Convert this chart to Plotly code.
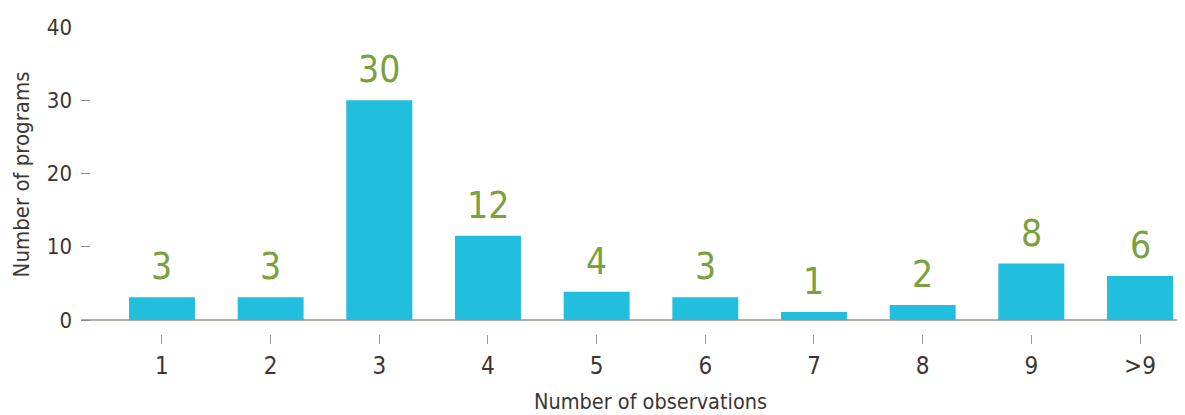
import plotly.graph_objects as go

categories = ["1", "2", "3", "4", "5", "6", "7", "8", "9", ">9"]
bar_values = [3.1, 3.1, 30.0, 11.5, 3.85, 3.1, 1.1, 2.05, 7.7, 6.0]
value_labels = ["3", "3", "30", "12", "4", "3", "1", "2", "8", "6"]
y_ticks = [0, 10, 20, 30, 40]

FONT = "Liberation Sans Narrow, DejaVu Sans Condensed, Arial Narrow, sans-serif"
TEXT_COL = "#3b3631"
GREEN = "#7ba03f"
BAR_COL = "#22bede"
GRAY = "#b3afa9"

fig = go.Figure()
fig.add_trace(go.Bar(x=list(range(len(categories))), y=bar_values,
                     marker=dict(color=BAR_COL, line=dict(width=0)), hoverinfo="skip"))

for i, (v, t) in enumerate(zip(bar_values, value_labels)):
    fig.add_annotation(x=i, y=v, text=t, showarrow=False, yanchor="bottom", yshift=7,
                       font=dict(family=FONT, size=37, color=GREEN))

fig.add_annotation(x=4.5, xref="x", y=0, yref="paper", yshift=-53, yanchor="top",
                   text="Number of observations", showarrow=False,
                   font=dict(family=FONT, size=21.5, color=TEXT_COL))
fig.add_annotation(x=-0.0543, xref="paper", y=0.52, yref="paper", textangle=-90,
                   xanchor="center", yanchor="middle",
                   text="Number of programs", showarrow=False,
                   font=dict(family=FONT, size=22, color=TEXT_COL))

fig.update_layout(
    width=1177, height=407,
    margin=dict(l=73, r=0, t=19, b=81, autoexpand=False),
    paper_bgcolor="white", plot_bgcolor="white",
    bargap=0.393,
    showlegend=False,
    font=dict(family=FONT, color=TEXT_COL),
    xaxis=dict(range=[-0.745, 9.414], tickvals=list(range(len(categories))), ticktext=categories,
               showgrid=False, showline=False, zeroline=False, automargin=False,
               ticks="outside", ticklen=9, tickcolor="#9d9892", tickwidth=1,
               ticklabelstandoff=1,
               tickfont=dict(family=FONT, size=24, color=TEXT_COL)),
    yaxis=dict(range=[-1.91, 40], tickvals=y_ticks, showgrid=False, showline=False, automargin=False,
               zeroline=True, zerolinecolor=GRAY, zerolinewidth=2,
               ticks="inside", ticklen=9, tickcolor="#8f8a84", tickwidth=1,
               ticklabelstandoff=8,
               tickfont=dict(family=FONT, size=22, color=TEXT_COL)),
)

fig.write_html("out.html")
